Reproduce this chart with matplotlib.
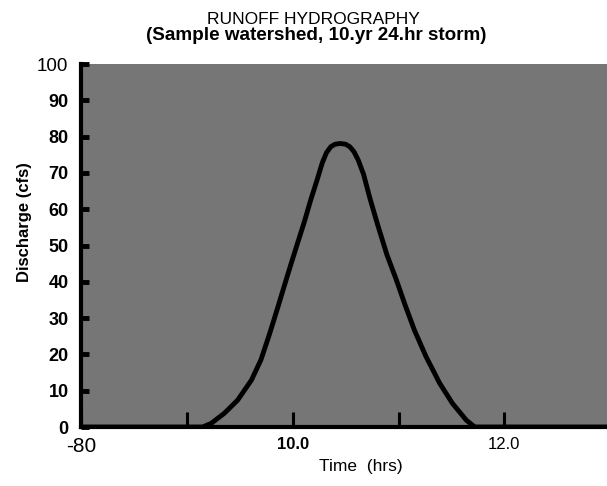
import matplotlib
matplotlib.use("Agg")
import matplotlib.pyplot as plt
import numpy as np

plt.rcParams['font.family'] = ['Liberation Sans', 'DejaVu Sans']

# Data
time_hrs = [8.0, 9.0, 9.15, 9.23, 9.355, 9.48, 9.61, 9.70, 9.78, 9.86, 9.92, 9.98,
            10.05, 10.11, 10.17, 10.23, 10.28, 10.32, 10.36, 10.40, 10.45, 10.50,
            10.54, 10.58, 10.62, 10.67, 10.73, 10.80, 10.89, 10.98, 11.06, 11.15,
            11.26, 11.39, 11.51, 11.64, 11.72, 12.0, 13.0]
discharge_cfs = [0, 0, 0, 1.0, 3.8, 7.4, 12.9, 18.5, 25.5, 33.0, 38.8, 44.5,
                 51.0, 56.5, 62.5, 68.0, 72.8, 75.6, 77.2, 77.9, 78.1, 77.9,
                 77.2, 75.8, 73.5, 69.6, 63.0, 56.0, 47.5, 40.5, 33.8, 26.7,
                 19.4, 12.0, 6.5, 1.9, 0, 0, 0]

x_ticks = [8, 9, 10, 11, 12]
x_tick_labels = ['-80', '', '10.0', '', '12.0']
y_ticks = [0, 10, 20, 30, 40, 50, 60, 70, 80, 90, 100]
y_tick_labels = ['0', '10', '20', '30', '40', '50', '60', '70', '80', '90', '100']

fig = plt.figure(figsize=(6.07, 4.86), dpi=100)
ax = fig.add_axes([81/607, 1-427/486, 1-81/607, (427-64)/486])
ax.set_facecolor('#767676')

ax.plot(time_hrs, discharge_cfs, color='black', linewidth=3.5,
        solid_capstyle='round', solid_joinstyle='round')

ax.set_xlim(8, 12.97)
ax.set_ylim(0, 100)

for s in ['top', 'right']:
    ax.spines[s].set_visible(False)
for s in ['left', 'bottom']:
    ax.spines[s].set_linewidth(3)
    ax.spines[s].set_color('black')

ax.set_xticks(x_ticks)
ax.set_xticklabels(x_tick_labels)
ax.set_yticks(y_ticks)
ax.set_yticklabels(y_tick_labels)
ax.tick_params(axis='x', direction='in', length=11, width=2.2, pad=7, labelsize=12)
ax.tick_params(axis='y', direction='in', length=6, width=3.5, pad=9, labelsize=13)

for lab in ax.get_yticklabels():
    if lab.get_text() == '100':
        lab.set_fontweight('normal')
        lab.set_fontsize(13.5)
    else:
        lab.set_fontweight('bold')
for lab in ax.get_xticklabels():
    t = lab.get_text()
    if t == '-80':
        lab.set_fontsize(15)
    elif t == '10.0':
        lab.set_fontweight('bold')

ax.set_ylabel('Discharge (cfs)', fontsize=12, fontweight='bold')
ax.yaxis.set_label_coords(-(81-32)/(607-81), (427-222)/(427-64))
ax.set_xlabel('Time  (hrs)', fontsize=12.5)
ax.xaxis.set_label_coords((361-81)/(607-81), -(466-427)/(427-64))
ax.xaxis.label.set_va('center')

fig.text(313/607, 1-19/486, 'RUNOFF HYDROGRAPHY', ha='center', va='center', fontsize=12.5)
fig.text(316/607, 1-36/486, '(Sample watershed, 10.yr 24.hr storm)', ha='center',
         va='center', fontsize=13.6, fontweight='bold')

fig.savefig('out.png', dpi=100)
